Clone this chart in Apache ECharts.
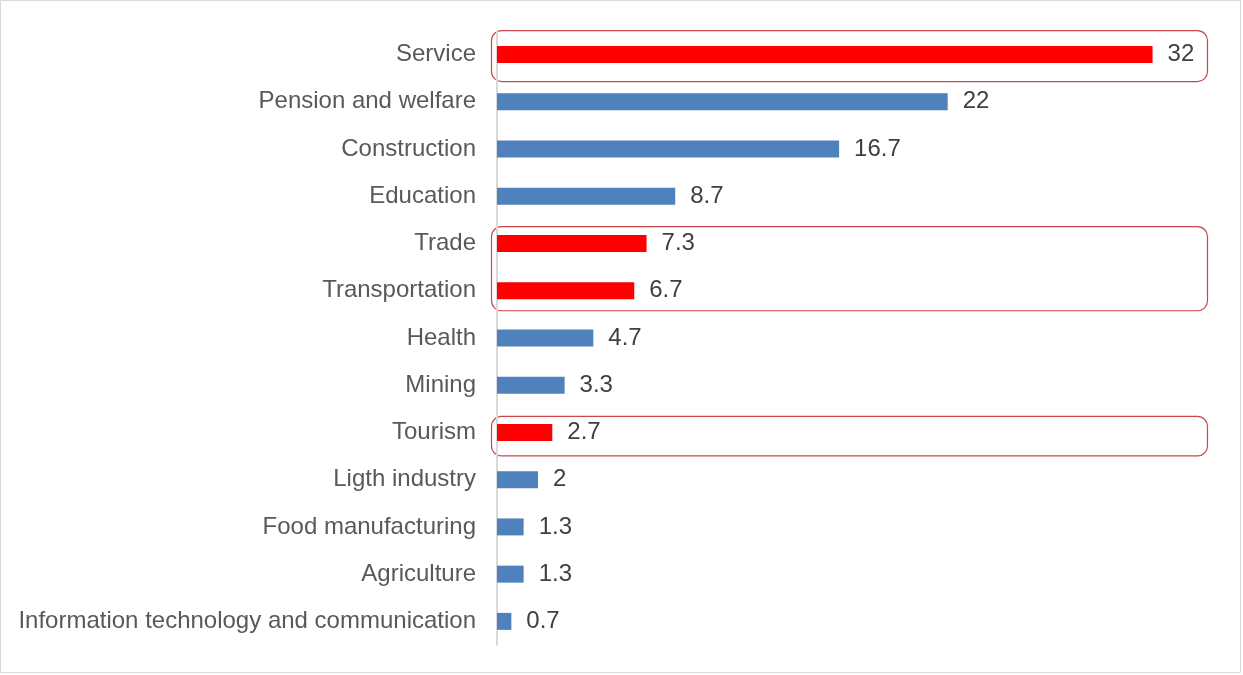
<!DOCTYPE html>
<html>
<head>
<meta charset="utf-8">
<style>
  html, body { margin: 0; padding: 0; background: #ffffff; }
  #chart { width: 1243px; height: 675px; }
</style>
<script src="https://cdn.jsdelivr.net/npm/echarts@6/dist/echarts.min.js"></script>
</head>
<body>
<div id="chart"></div>
<script>
// Sectors, top to bottom, with their shares
const categories = [
  'Service', 'Pension and welfare', 'Construction', 'Education', 'Trade',
  'Transportation', 'Health', 'Mining', 'Tourism', 'Ligth industry',
  'Food manufacturing', 'Agriculture', 'Information technology and communication'
];
const values = [32, 22, 16.7, 8.7, 7.3, 6.7, 4.7, 3.3, 2.7, 2, 1.3, 1.3, 0.7];

// Sectors shown in red and framed
const highlighted = ['Service', 'Trade', 'Transportation', 'Tourism'];

// Framed groups: first and last category of each frame
const frames = [
  ['Service', 'Service'],
  ['Trade', 'Transportation'],
  ['Tourism', 'Tourism']
];

const BLUE = '#4f81bd';
const RED = '#ff0000';
const FONT = '"Liberation Sans", Arial, sans-serif';

const chart = echarts.init(document.getElementById('chart'), null, { renderer: 'canvas' });

const gridLeft = 497, gridTop = 31, gridHeight = 614, gridWidth = 717;

chart.setOption({
  animation: false,
  backgroundColor: '#ffffff',
  grid: { left: gridLeft, top: gridTop, width: gridWidth, height: gridHeight, containLabel: false },
  xAxis: {
    type: 'value', min: 0, max: 35, show: false
  },
  yAxis: {
    type: 'category',
    data: categories,
    inverse: true,
    axisTick: { show: false },
    axisLine: { show: true, lineStyle: { color: '#d9d9d9', width: 2 } },
    axisLabel: { color: '#595959', fontSize: 24, fontFamily: FONT, margin: 21 }
  },
  series: [{
    type: 'bar',
    barWidth: 17,
    data: values.map((v, i) => ({
      value: v,
      itemStyle: { color: highlighted.includes(categories[i]) ? RED : BLUE }
    })),
    label: {
      show: true, position: 'right', distance: 15,
      color: '#404040', fontSize: 24, fontFamily: FONT
    }
  }]
});

// Frames around the highlighted sectors, placed from the category scale
const framePad = [[24.5, 26.5], [17.5, 19.5], [16.6, 23]];
const graphics = [{
  type: 'rect', silent: true,
  shape: { x: 0.5, y: 0.5, width: 1240, height: 672 },
  style: { fill: 'none', stroke: '#d9d9d9', lineWidth: 1 }
}];
frames.forEach((f, k) => {
  const y0 = chart.convertToPixel({ yAxisIndex: 0 }, f[0]) - framePad[k][0];
  const y1 = chart.convertToPixel({ yAxisIndex: 0 }, f[1]) + framePad[k][1];
  const x0 = gridLeft - 6;
  const x1 = gridLeft + gridWidth - 7;
  graphics.push({
    type: 'rect', silent: true,
    shape: { x: x0 + 0.5, y: y0 + 0.5, width: x1 - x0, height: y1 - y0, r: 10 },
    style: { fill: 'none', stroke: '#c9484a', lineWidth: 1.2 }
  });
});
chart.setOption({ graphic: graphics });
</script>
</body>
</html>
